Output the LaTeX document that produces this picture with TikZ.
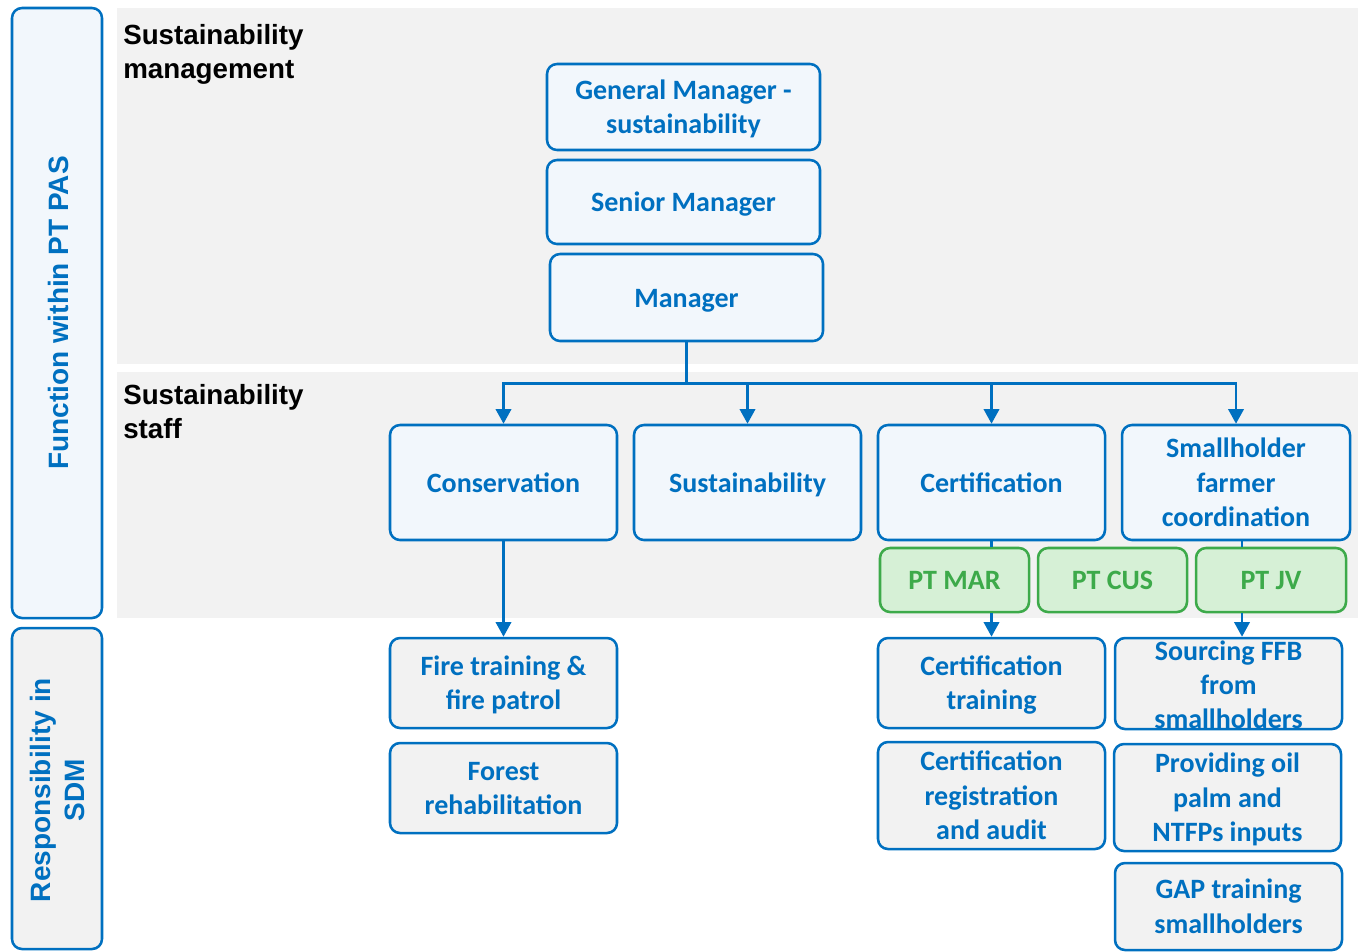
\documentclass[tikz,border=0pt]{standalone}
\usepackage{fontspec}
\setmainfont{Carlito}
\newfontfamily\labelfont{Liberation Sans}
\usetikzlibrary{arrows.meta,calc}

\definecolor{sdmblue}{RGB}{0,112,192}
\definecolor{boxblue}{RGB}{242,247,252}
\definecolor{bandgray}{RGB}{242,242,242}
\definecolor{sdmgreen}{RGB}{61,170,74}
\definecolor{greenfill}{RGB}{214,240,214}

% line box of the box font: ascent and descent, so text is centred by its line boxes
\newcommand\ls{\rule[-0.269em]{0pt}{1.221em}}

\tikzset{
  frame/.style={draw=sdmblue, line width=1.9pt, rounded corners=7.5pt, inner sep=0pt},
  box/.style={frame, fill=boxblue, text=sdmblue,
    font=\bfseries\fontsize{21}{25.7}\selectfont, align=center},
  lowbox/.style={box, fill=bandgray},
  greenbox/.style={box, draw=sdmgreen, fill=greenfill, text=sdmgreen},
  boxtext/.style={text=sdmblue, font=\bfseries\fontsize{21}{25.7}\selectfont,
    align=center, inner sep=0pt},
  sz/.style 2 args={minimum width=#1*0.75pt, minimum height=#2*0.75pt},
  sidetext/.style={text=sdmblue, font=\labelfont\bfseries\fontsize{21}{25.5}\selectfont,
    align=center, inner sep=0pt, rotate=90},
  bandlabel/.style={font=\labelfont\bfseries\fontsize{20.8}{25.5}\selectfont, align=left,
    anchor=north west, inner sep=0pt, text=black},
  conn/.style={draw=sdmblue, line width=2pt},
  arr/.style={conn, -{Triangle[width=11.5pt,length=11pt]}}
}

\begin{document}
\begin{tikzpicture}[x=0.75pt,y=-0.75pt]
\useasboundingbox (0,0) rectangle (1358,951);

% background bands
\fill[bandgray] (117,8) rectangle (1358,364);
\fill[bandgray] (117,372) rectangle (1358,618);
\node[bandlabel] (lblmgmt) at (123,24) {Sustainability\\management};
\node[bandlabel] (lblstaff) at (123,384) {Sustainability\\staff};

% side labels
\node[frame, fill=boxblue, sz={90}{610}] (sidetop) at (57,313) {};
\node[sidetext] (sidetoptxt) at (58,313) {Function within PT PAS};
\node[frame, fill=bandgray, sz={90}{321}] (sidebot) at (57,788.5) {};
\node[sidetext] (sidebottxt) at (57,790) {Responsibility in\\SDM};

% management chain
\node[box, sz={273}{86}] (gm) at (683.5,107) {\ls General Manager -\\sustainability\ls};
\node[box, sz={273}{84}] (sm) at (683.5,202) {\ls Senior Manager\ls};
\node[box, sz={273}{87}] (mgr) at (686.5,297.5) {\ls Manager\ls};

% staff functions
\node[box, sz={227}{115}] (cons) at (503.5,482.5) {\ls Conservation\ls};
\node[box, sz={227}{115}] (sust) at (747.5,482.5) {\ls Sustainability\ls};
\node[box, sz={227}{115}] (cert) at (991.5,482.5) {\ls Certification\ls};
\node[box, sz={228}{115}] (sh) at (1236,482.5) {\ls Smallholder\\farmer\\coordination\ls};

% companies
\node[greenbox, sz={149}{64}] (mar) at (954.5,580) {\ls PT MAR\ls};
\node[greenbox, sz={149}{64}] (cus) at (1112.5,580) {\ls PT CUS\ls};
\node[greenbox, sz={150}{64}] (jv) at (1271,580) {\ls PT JV\ls};

% responsibilities
\node[lowbox, sz={227}{90}] (fire) at (503.5,683) {\ls Fire training \&\\fire patrol\ls};
\node[lowbox, sz={227}{90}] (forest) at (503.5,788) {\ls Forest\\rehabilitation\ls};
\node[lowbox, sz={227}{90}] (certtr) at (991.5,683) {\ls Certification\\training\ls};
\node[lowbox, sz={227}{107}] (certreg) at (991.5,795.5) {\ls Certification\\registration\\and audit\ls};
% this box keeps its size; its three lines run over its edges
\node[lowbox, sz={227}{91}] (ffb) at (1228.5,683.5) {};
\node[boxtext] (ffbtext) at (1228.5,685) {\ls Sourcing FFB\\from\\smallholders\ls};
\node[lowbox, sz={227}{107}] (inputs) at (1227.5,797.5) {\ls Providing oil\\palm and\\NTFPs inputs\ls};
\node[lowbox, sz={227}{87}] (gap) at (1228.5,906.5) {\ls GAP training\\smallholders\ls};

% connectors
\coordinate (bus) at ($(mgr.south)+(0,41)$);
\draw[conn, line width=2.4pt] (mgr.south) -- (bus);
\draw[arr] (bus) -| (cons.north);
\draw[arr] (bus) -| (sust.north);
\draw[arr] (bus) -| (cert.north);
\draw[arr] (bus) -| (sh.north);

\draw[arr] (cons.south) -- (fire.north);
\draw[conn] (cert.south) -- (cert.south |- mar.north);
\draw[arr] (mar.south -| cert.south) -- (certtr.north);
\coordinate (shdrop) at ($(sh.south)+(6,0)$);
\draw[conn] (shdrop) -- (shdrop |- jv.north);
\draw[arr] (jv.south -| shdrop) -- (shdrop |- ffb.north);
\end{tikzpicture}
\end{document}
